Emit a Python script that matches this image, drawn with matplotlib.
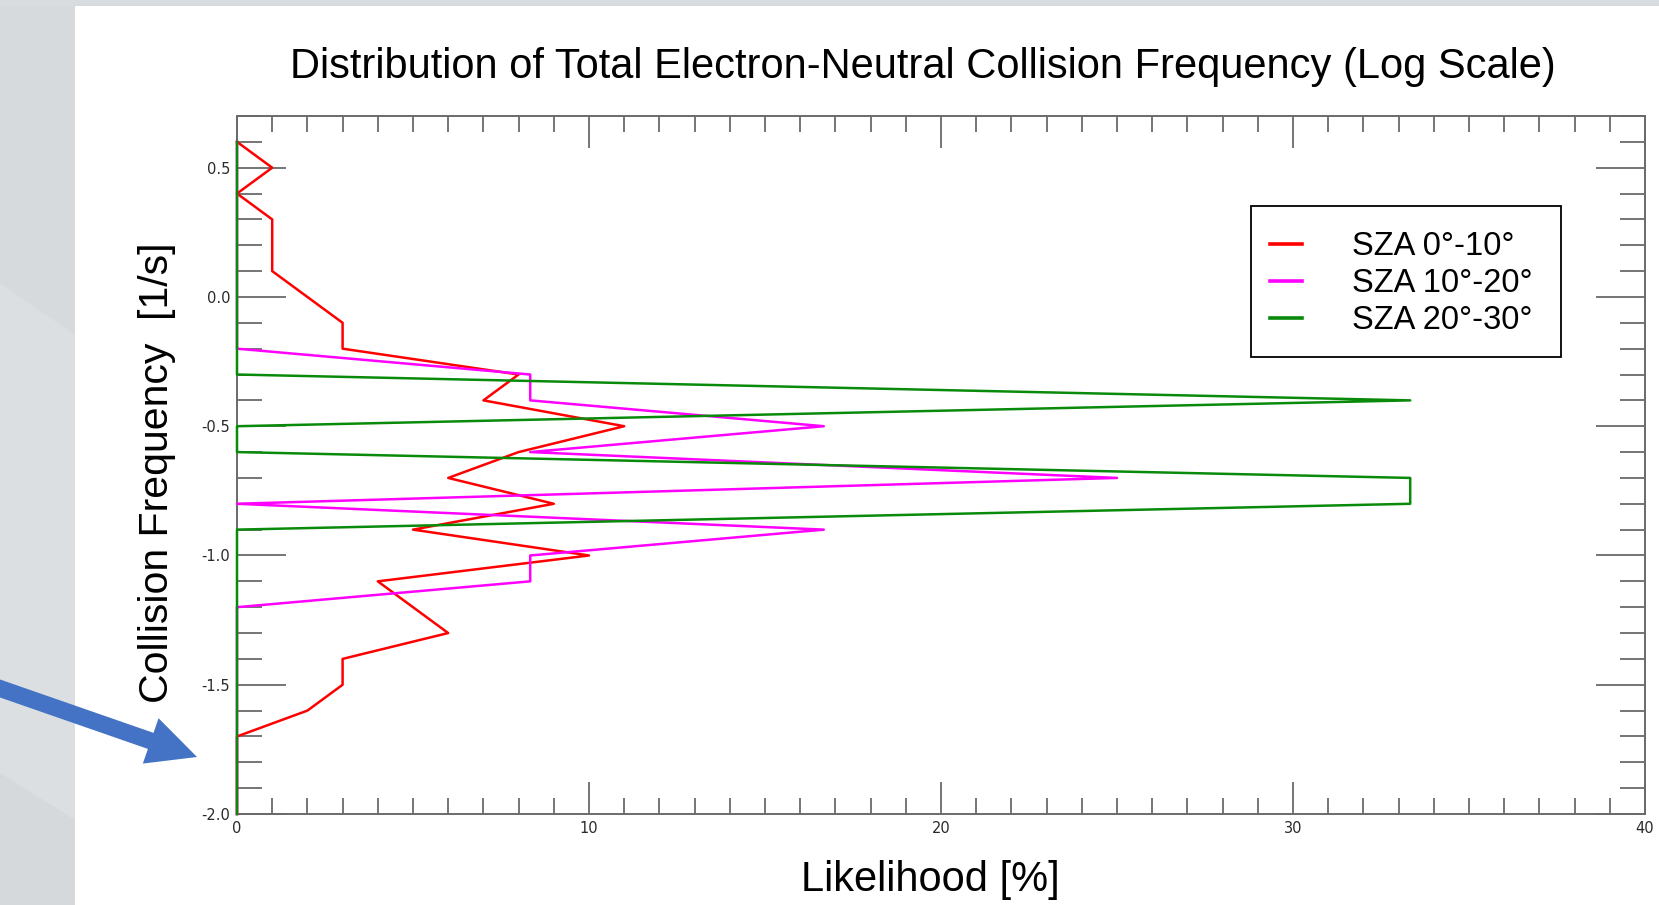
import matplotlib

matplotlib.use("Agg")
import matplotlib.pyplot as plt
from matplotlib.patches import Rectangle, FancyArrow, Polygon
from matplotlib.transforms import IdentityTransform
from matplotlib.ticker import MultipleLocator, FormatStrFormatter

# log10 collision-frequency bins (1/s), top to bottom
log_freq = [0.6, 0.5, 0.4, 0.3, 0.2, 0.1, 0.0, -0.1, -0.2, -0.3, -0.4, -0.5, -0.6,
            -0.7, -0.8, -0.9, -1.0, -1.1, -1.2, -1.3, -1.4, -1.5, -1.6, -1.7,
            -1.8, -1.9, -2.0]

# likelihood per bin [%]
sza_0_10 = [0, 1, 0, 1, 1, 1, 2, 3, 3, 8, 7, 11, 8,
            6, 9, 5, 10, 4, 5, 6, 3, 3, 2, 0,
            0, 0, 0]
sza_10_20 = [0, 0, 0, 0, 0, 0, 0, 0, 0, 8.33, 8.33, 16.67, 8.33,
             25.0, 0, 16.67, 8.33, 8.33, 0, 0, 0, 0, 0, 0,
             0, 0, 0]
sza_20_30 = [0, 0, 0, 0, 0, 0, 0, 0, 0, 0, 33.33, 0, 0,
             33.33, 33.33, 0, 0, 0, 0, 0, 0, 0, 0, 0,
             0, 0, 0]

series = [
    (sza_0_10, "#ff0000", "SZA 0°-10°"),
    (sza_10_20, "#ff00ff", "SZA 10°-20°"),
    (sza_20_30, "#0a8a0a", "SZA 20°-30°"),
]

W, H = 1659, 905
SANS = "Liberation Sans"


def fx(px):
    return px / W


def fy(py):
    # pixel row measured from the top
    return 1 - py / H


fig = plt.figure(figsize=(W / 100, H / 100), dpi=100, facecolor="white")

# slide background: grey side panel (with faint diagonal bands) and top strip
fig.add_artist(Rectangle((0, 0), fx(75), 1, transform=fig.transFigure,
                         facecolor="#dcdfe1", edgecolor="none", zorder=0))
fig.add_artist(Polygon([(0, fy(0)), (fx(75), fy(0)), (fx(75), fy(335)), (0, fy(283))],
                       closed=True, transform=fig.transFigure,
                       facecolor="#d7dadc", edgecolor="none", zorder=0))
fig.add_artist(Polygon([(0, fy(773)), (fx(75), fy(820)), (fx(75), fy(905)), (0, fy(905))],
                       closed=True, transform=fig.transFigure,
                       facecolor="#d6d9db", edgecolor="none", zorder=0))
fig.add_artist(Rectangle((0, fy(6)), 1, fy(0) - fy(6), transform=fig.transFigure,
                         facecolor="#d9dcdf", edgecolor="none", zorder=0))

ax = fig.add_axes([fx(237), fy(814), fx(1645 - 237), fy(116) - fy(814)])

for vals, color, label in series:
    ax.plot(vals, log_freq, color=color, lw=1.8, label=label, zorder=3, clip_on=False)

ax.set_xlim(0, 40)
ax.set_ylim(-2.0, 0.7)
ax.xaxis.set_major_locator(MultipleLocator(10))
ax.xaxis.set_minor_locator(MultipleLocator(1))
ax.yaxis.set_major_locator(MultipleLocator(0.5))
ax.yaxis.set_minor_locator(MultipleLocator(0.1))
ax.yaxis.set_major_formatter(FormatStrFormatter("%.1f"))

tick_col = "#505050"
ax.tick_params(which="both", direction="in", top=True, right=True, color=tick_col,
               width=1.1, labelsize=10.5, labelcolor="#2a2a2a", pad=5)
ax.tick_params(axis="x", which="major", length=23)
ax.tick_params(axis="x", which="minor", length=11.5)
ax.tick_params(axis="y", which="major", length=35)
ax.tick_params(axis="y", which="minor", length=18)
for sp in ax.spines.values():
    sp.set_color("#6a6a6a")
    sp.set_linewidth(1.4)

# legend with its own box
leg = ax.legend(loc="upper left", bbox_to_anchor=((1270 - 237) / 1408, (814 - 231) / 698),
                frameon=False, prop={"family": SANS, "size": 23.5},
                handlelength=0.97, handletextpad=1.53, labelspacing=0.19,
                borderpad=0.0, borderaxespad=0.0)
for line in leg.get_lines():
    line.set_linewidth(2.6)
ax.add_patch(Rectangle(((1251 - 237) / 1408, (814 - 357) / 698),
                       (1561 - 1251) / 1408, (357 - 206) / 698,
                       transform=ax.transAxes, facecolor="none",
                       edgecolor="black", lw=1.3, zorder=4))

fig.text(fx(923), fy(67), "Distribution of Total Electron-Neutral Collision Frequency (Log Scale)",
         ha="center", va="center", family=SANS, fontsize=30)
fig.text(fx(930), fy(880), "Likelihood [%]", ha="center", va="center",
         family=SANS, fontsize=30)
fig.text(fx(157), fy(473), "Collision Frequency  [1/s]", ha="center", va="center",
         rotation=90, family=SANS, fontsize=29.5)

# blue pointer arrow on the side panel
fig.add_artist(FancyArrow(-10, H - 685, 207, -72, width=17, head_width=48, head_length=49,
                          length_includes_head=True, color="#4472c4", lw=0,
                          transform=IdentityTransform(), zorder=5))

fig.savefig("out.png", dpi=100, facecolor="white")
